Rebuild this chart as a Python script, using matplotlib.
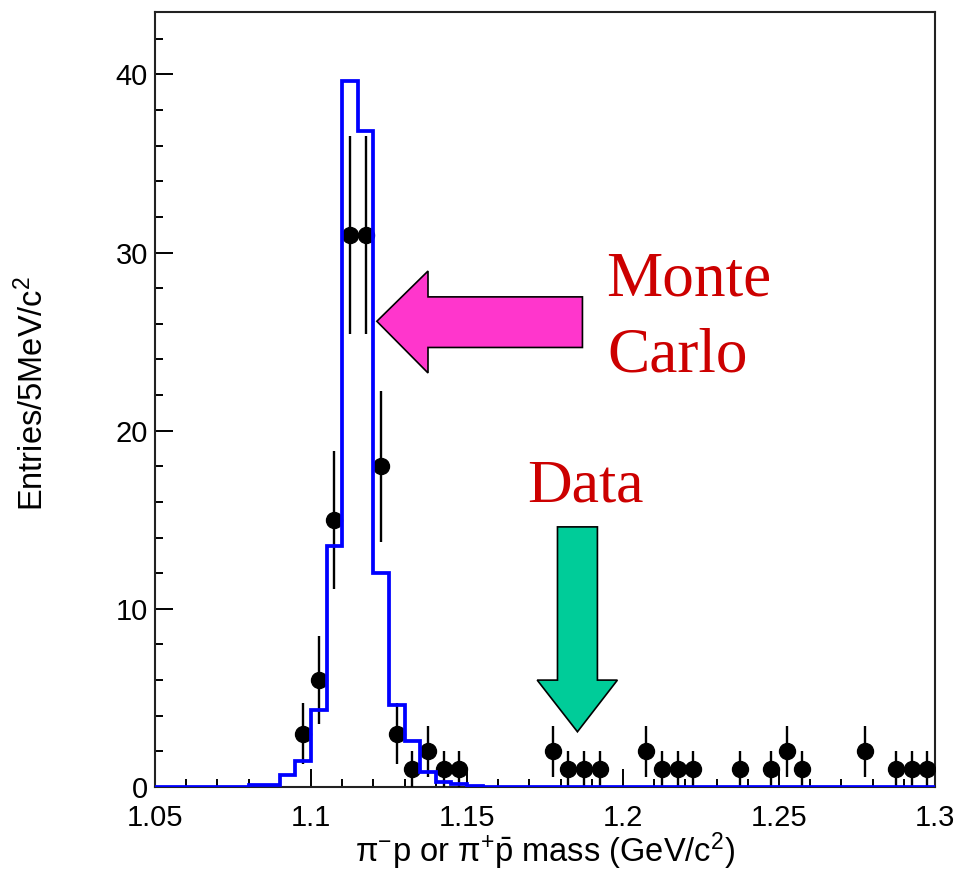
import numpy as np
import matplotlib
matplotlib.use("Agg")
import matplotlib.pyplot as plt
from matplotlib.patches import Polygon
from matplotlib.ticker import MultipleLocator

plt.rcParams['font.family'] = ['Liberation Sans', 'DejaVu Sans']
plt.rcParams['mathtext.fontset'] = 'custom'
plt.rcParams['mathtext.rm'] = 'Liberation Sans'
plt.rcParams['mathtext.it'] = 'Liberation Sans:italic'
plt.rcParams['mathtext.bf'] = 'Liberation Sans:bold'

# 5 MeV binning from 1.05 to 1.30 GeV
bin_lo, bin_hi, bin_w = 1.05, 1.30, 0.005
mc_edges = np.linspace(bin_lo, bin_hi, 51)

# Monte Carlo expectation per bin (50 bins)
mc_counts = [0, 0, 0, 0, 0, 0, 0.1, 0.1, 0.65, 1.45,
             4.35, 13.5, 39.6, 36.8, 12.0, 4.6, 2.6, 0.85, 0.28, 0.18,
             0.05, 0, 0, 0, 0, 0, 0, 0, 0, 0,
             0, 0, 0, 0, 0, 0, 0, 0, 0, 0,
             0, 0, 0, 0, 0, 0, 0, 0, 0, 0]

# Observed candidates (bin centres, entries)
data_mass = [1.0975, 1.1025, 1.1075, 1.1125, 1.1175, 1.1225, 1.1275, 1.1325,
             1.1375, 1.1425, 1.1475,
             1.1775, 1.1825, 1.1875, 1.1925,
             1.2075, 1.2125, 1.2175, 1.2225,
             1.2375, 1.2475, 1.2525, 1.2575,
             1.2775, 1.2875, 1.2925, 1.2975]
data_counts = [3, 6, 15, 31, 31, 18, 3, 1,
               2, 1, 1,
               2, 1, 1, 1,
               2, 1, 1, 1,
               1, 1, 2, 1,
               2, 1, 1, 1]

W, H, DPI = 968, 882, 100
fig = plt.figure(figsize=(W / DPI, H / DPI), dpi=DPI)
ax = fig.add_axes([155 / W, 1 - 787 / H, (935 - 155) / W, (787 - 12) / H])

# data points with Poisson errors
ax.errorbar(data_mass, data_counts, yerr=np.sqrt(data_counts), fmt='o',
            color='black', ms=11.5, elinewidth=1.7, capsize=0, zorder=3)

# MC histogram outline
ax.stairs(mc_counts, mc_edges, color='#0000ff', linewidth=2.7, zorder=4)

ax.set_xlim(bin_lo, bin_hi)
ax.set_ylim(0, 43.5)

ax.xaxis.set_major_locator(MultipleLocator(0.05))
ax.xaxis.set_minor_locator(MultipleLocator(0.01))
ax.yaxis.set_major_locator(MultipleLocator(10))
ax.yaxis.set_minor_locator(MultipleLocator(2))
ax.set_xticks([1.05, 1.1, 1.15, 1.2, 1.25, 1.3])
ax.set_xticklabels(['1.05', '1.1', '1.15', '1.2', '1.25', '1.3'])

ax.tick_params(which='both', direction='in', top=False, right=False,
               colors='black', width=1.4, labelsize=21)
ax.tick_params(which='major', length=13)
ax.tick_params(which='minor', length=6)
ax.tick_params(axis='x', which='major', pad=12)
ax.tick_params(axis='y', which='major', pad=5)
for s in ax.spines.values():
    s.set_linewidth(1.5)
    s.set_color('#222222')

ax.set_xlabel(r'$\mathrm{\pi}^{-}$p or $\mathrm{\pi}^{+}\bar{\mathrm{p}}$ mass (GeV/c$^{2}$)',
              fontsize=23.5)
ax.xaxis.label.set_va('center')
ax.xaxis.set_label_coords(0.5, (787 - 851) / 775)

ax.set_ylabel('Entries/5MeV/c$^{2}$', fontsize=23.5)
ax.yaxis.label.set_va('center')
ax.yaxis.set_label_coords((33 - 155) / 778, (787 - 393) / 775)

# annotation arrows
mc_arrow = [(1.1211, 26.14), (1.1375, 28.96), (1.1375, 27.51), (1.1870, 27.51),
            (1.1870, 24.67), (1.1375, 24.67), (1.1375, 23.24)]
ax.add_patch(Polygon(mc_arrow, closed=True, facecolor='#ff36cc',
                     edgecolor='black', linewidth=1.2, zorder=5, clip_on=False))
data_arrow = [(1.1790, 14.60), (1.1918, 14.60), (1.1918, 6.00), (1.1982, 6.00),
              (1.1854, 3.10), (1.1725, 6.00), (1.1790, 6.00)]
ax.add_patch(Polygon(data_arrow, closed=True, facecolor='#00cc99',
                     edgecolor='black', linewidth=1.2, zorder=5, clip_on=False))

red = '#cc0000'
ax.text(1.1945, 27.6, 'Monte', fontsize=45.5, family='Liberation Serif',
        color=red, ha='left', va='baseline')
ax.text(1.1950, 23.3, 'Carlo', fontsize=45.5, family='Liberation Serif',
        color=red, ha='left', va='baseline')
ax.text(1.1693, 16.0, 'Data', fontsize=44.5, family='Liberation Serif',
        color=red, ha='left', va='baseline')

fig.savefig('out.png', dpi=DPI)
